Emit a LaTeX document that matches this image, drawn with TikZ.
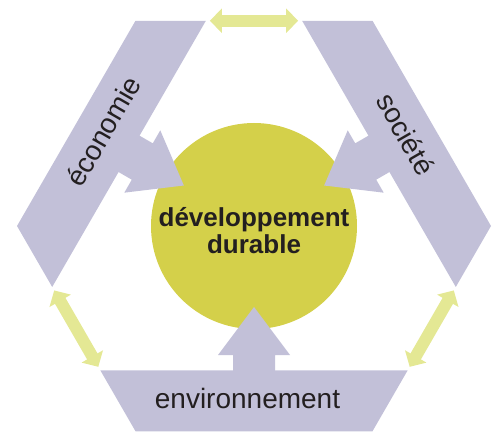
\documentclass[tikz,border=0pt]{standalone}
\usepackage{fontspec}
\setmainfont{Liberation Sans}
\usetikzlibrary{calc,arrows.meta}
\definecolor{band}{HTML}{C2C0D8}
\definecolor{core}{HTML}{D4D04A}
\definecolor{link}{HTML}{E4E894}
\definecolor{ink}{HTML}{231F20}

\begin{document}
\begin{tikzpicture}[x=1pt,y=1pt,
  pillar/.style={fill=band},
  linkarrow/.style={draw=link, line width=12pt,
    {Triangle[width=24pt,length=12pt]}-{Triangle[width=24pt,length=12pt]},
    shorten <=4pt, shorten >=4pt},
  bandtext/.style={font=\fontsize{28}{30}\selectfont, text=ink, inner sep=0pt},
  coretext/.style={font=\bfseries\fontsize{26}{26.5}\selectfont, text=ink,
    inner sep=0pt, align=center}]
\useasboundingbox (0,0) rectangle (498,432);

% hexagon frame
\coordinate (C) at (254,206);
\foreach \i in {0,...,5} \coordinate (V\i) at ($(C)+(\i*60:237)$);

% inner corners of the three bands
\coordinate (E1) at ($(V2)!70.4pt!(V1)$);
\coordinate (E2) at ($(V3)!70.4pt!(V4)$);
\coordinate (N1) at ($(V4)!70.4pt!(V3)$);
\coordinate (N2) at ($(V5)!70.4pt!(V0)$);
\coordinate (S1) at ($(V0)!70.4pt!(V5)$);
\coordinate (S2) at ($(V1)!70.4pt!(V2)$);

% the three bands
\fill[pillar] (V2) -- (V3) -- (E2) -- (E1) -- cycle;
\fill[pillar] (V4) -- (V5) -- (N2) -- (N1) -- cycle;
\fill[pillar] (V0) -- (V1) -- (S2) -- (S1) -- cycle;

% central disc
\node[circle, fill=core, minimum size=206pt, inner sep=0pt] (core) at (C) {};

% arrows from each band into the disc
\foreach \a in {150,270,30}{
  \begin{scope}[shift={(C)}, rotate=\a]
    \fill[pillar] (81,0) -- (129,36) -- (129,21) -- (150,21)
      -- (150,-21) -- (129,-21) -- (129,-36) -- cycle;
  \end{scope}
}

% links between the bands
\draw[linkarrow] (E1) -- (S2);
\draw[linkarrow] (E2) -- (N1);
\draw[linkarrow] (N2) -- (S1);

% texts
\node[bandtext, rotate=60] (eco) at (103,301) {économie};
\node[bandtext, rotate=-60] (soc) at (406,298) {société};
\node[bandtext, anchor=base] (env) at (247.5,24) {environnement};
\node[coretext] (dd) at (254,201.5) {développement\\durable};
\end{tikzpicture}
\end{document}
